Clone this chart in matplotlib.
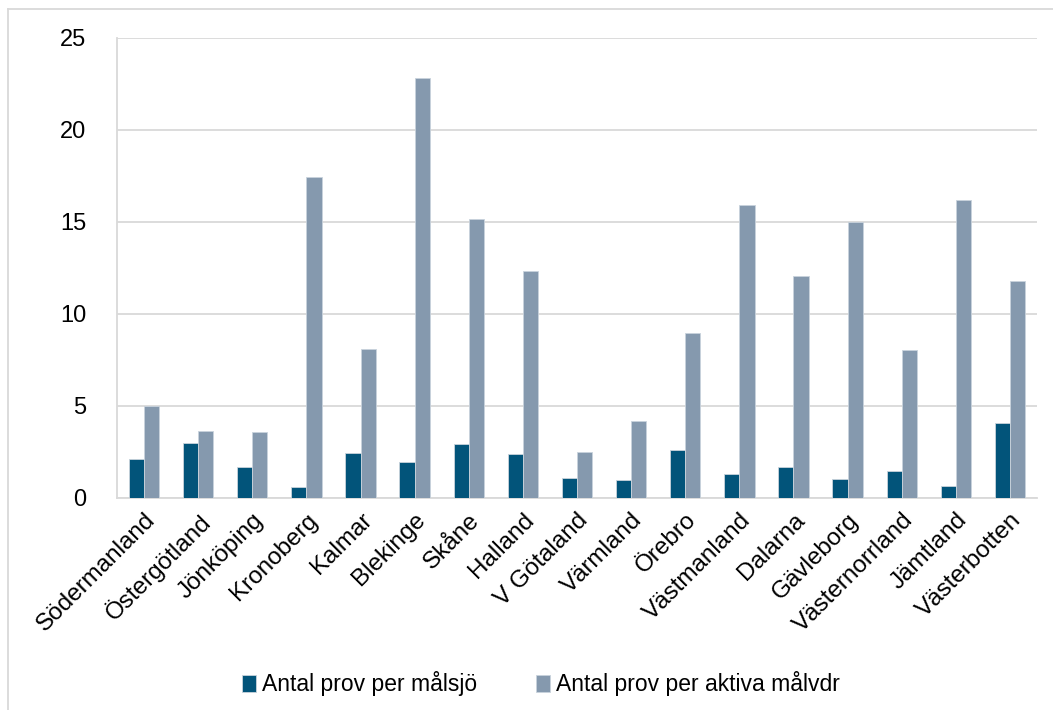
import matplotlib
matplotlib.use("Agg")
import matplotlib.pyplot as plt
import numpy as np
from matplotlib.lines import Line2D

categories = ["Södermanland", "Östergötland", "Jönköping", "Kronoberg", "Kalmar",
              "Blekinge", "Skåne", "Halland", "V Götaland", "Värmland", "Örebro",
              "Västmanland", "Dalarna", "Gävleborg", "Västernorrland", "Jämtland",
              "Västerbotten"]
per_malsjo = [2.10, 2.99, 1.68, 0.61, 2.46, 1.97, 2.93, 2.41, 1.07, 0.98, 2.61,
              1.29, 1.68, 1.03, 1.48, 0.63, 4.08]
per_aktiva = [5.02, 3.62, 3.57, 17.46, 8.10, 22.80, 15.18, 12.35, 2.50, 4.18, 8.97,
              15.92, 12.07, 15.00, 8.04, 16.18, 11.80]
series_names = ["Antal prov per målsjö", "Antal prov per aktiva målvdr"]
yticks = [0, 5, 10, 15, 20, 25]

plt.rcParams['font.family'] = ['Liberation Sans', 'DejaVu Sans']

fig = plt.figure(figsize=(10.53, 7.10), dpi=100)
ax = fig.add_axes([117/1053, 1-498/710, 920/1053, 460/710])

x = np.arange(len(categories))
w = 0.28
dark = "#02547A"
light = "#8599AE"
ax.bar(x - w/2, per_malsjo, width=w, color=dark, edgecolor="#c9d3dc", linewidth=0.6,
       label=series_names[0], zorder=3)
ax.bar(x + w/2, per_aktiva, width=w, color=light, edgecolor="#c9d3dc", linewidth=0.6,
       label=series_names[1], zorder=3)

ax.set_xlim(-0.5, len(categories) - 0.5)
ax.set_ylim(0, 25)
ax.set_yticks(yticks)
ax.yaxis.grid(True, color="#d9d9d9", linewidth=1.3, zorder=0)
ax.set_axisbelow(True)
for s in ["top", "right"]:
    ax.spines[s].set_visible(False)
for s in ["left", "bottom"]:
    ax.spines[s].set_color("#d9d9d9")
    ax.spines[s].set_linewidth(1.3)
ax.tick_params(axis='y', length=0, pad=22, labelsize=17)
ax.tick_params(axis='x', length=0, pad=8, labelsize=17.5)
ax.set_xticks(x)
ax.set_xticklabels(categories, rotation=45, ha='right', rotation_mode='anchor')

leg = fig.legend(loc='center', bbox_to_anchor=(541/1053, 1-684/710), ncol=2,
                 frameon=False, fontsize=16.5, handlelength=0.6, handleheight=0.75,
                 handletextpad=0.25, columnspacing=2.6)

# figure border (top and left)
fig.add_artist(Line2D([8/1053, 1], [1-9/710, 1-9/710], color="#d9d9d9", linewidth=1.3))
fig.add_artist(Line2D([8/1053, 8/1053], [0, 1-9/710], color="#d9d9d9", linewidth=1.3))

fig.savefig("out.png", dpi=100, facecolor="white")
